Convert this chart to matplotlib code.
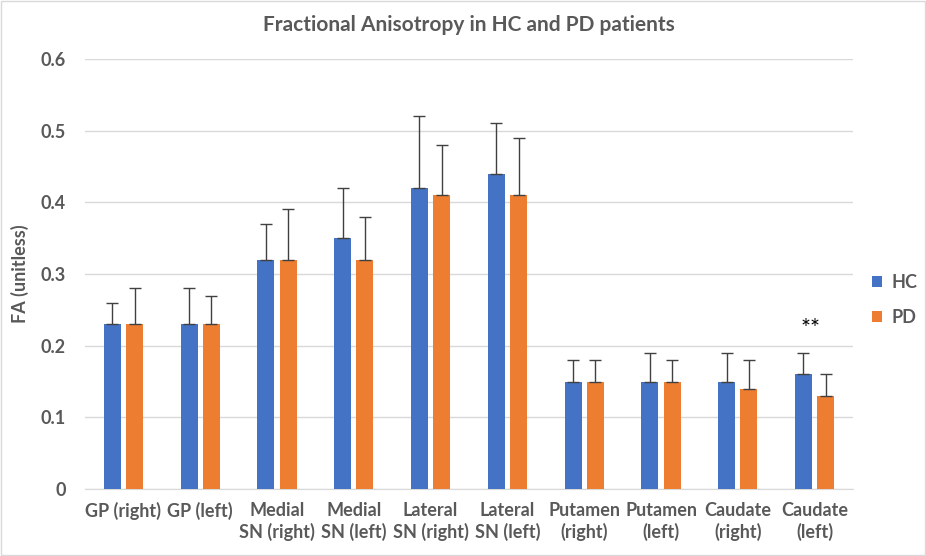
import numpy as np
import matplotlib.pyplot as plt
from matplotlib.patches import Rectangle

categories = ['GP (right)', 'GP (left)', 'Medial\nSN (right)', 'Medial\nSN (left)',
              'Lateral\nSN (right)', 'Lateral\nSN (left)', 'Putamen\n(right)',
              'Putamen\n(left)', 'Caudate\n(right)', 'Caudate\n(left)']
hc = [0.23, 0.23, 0.32, 0.35, 0.42, 0.44, 0.15, 0.15, 0.15, 0.16]
pd_vals = [0.23, 0.23, 0.32, 0.32, 0.41, 0.41, 0.15, 0.15, 0.14, 0.13]
hc_err = [0.03, 0.05, 0.05, 0.07, 0.10, 0.07, 0.03, 0.04, 0.04, 0.03]
pd_err = [0.05, 0.04, 0.07, 0.06, 0.07, 0.08, 0.03, 0.03, 0.04, 0.03]
yticks = [0, 0.1, 0.2, 0.3, 0.4, 0.5, 0.6]
ytick_labels = ['0', '0.1', '0.2', '0.3', '0.4', '0.5', '0.6']

plt.rcParams['font.family'] = ['Lato', 'DejaVu Sans']
grey = '#595959'
blue = '#4472C4'
orange = '#ED7D31'

fig = plt.figure(figsize=(9.26, 5.56), dpi=100)
ax = fig.add_axes([85 / 926, 1 - 489 / 556, 768 / 926, 430 / 556])
fig.patches.append(Rectangle((0.001, 0.001), 0.998, 0.997, transform=fig.transFigure,
                             fill=False, edgecolor='#d9d9d9', lw=1))

x = np.arange(len(categories))
w = 0.22
gap = 0.035
errkw = dict(ecolor='#404040', elinewidth=1, capsize=4, capthick=1)
ax.bar(x - w / 2 - gap, hc, w, color=blue, label='HC',
       yerr=[np.zeros(len(hc)), hc_err], error_kw=errkw, zorder=3)
ax.bar(x + w / 2 + gap, pd_vals, w, color=orange, label='PD',
       yerr=[np.zeros(len(pd_vals)), pd_err], error_kw=errkw, zorder=3)

ax.text(x[-1] - 0.05, 0.21, '**', ha='center', va='bottom', fontsize=17, color='black')

ax.set_xlim(-0.5, len(categories) - 0.5)
ax.set_ylim(0, 0.6)
ax.set_yticks(yticks)
ax.set_yticklabels(ytick_labels)
ax.set_xticks(x)
ax.set_xticklabels(categories, linespacing=1.3)
ax.yaxis.grid(True, color='#d9d9d9', lw=1, zorder=0)
ax.set_axisbelow(True)
for s in ['top', 'right', 'left']:
    ax.spines[s].set_visible(False)
ax.spines['bottom'].set_color('#d9d9d9')
ax.tick_params(axis='both', length=0, labelsize=13, colors=grey, pad=9)
for lab in ax.get_xticklabels() + ax.get_yticklabels():
    lab.set_fontweight('bold')
ax.tick_params(axis='y', pad=14)
ax.set_ylabel('FA (unitless)', fontsize=13, fontweight='bold', color=grey, labelpad=8)

ax.set_title('Fractional Anisotropy in HC and PD patients', fontsize=15, fontweight='bold',
             color=grey, pad=20)

leg = ax.legend(loc='center left', bbox_to_anchor=(1.003, 0.44), frameon=False,
                fontsize=13, handlelength=0.6, handleheight=0.6, labelspacing=1.0,
                handletextpad=0.5)
for t in leg.get_texts():
    t.set_color(grey)
    t.set_fontweight('bold')

fig.savefig('out.png', dpi=100)
